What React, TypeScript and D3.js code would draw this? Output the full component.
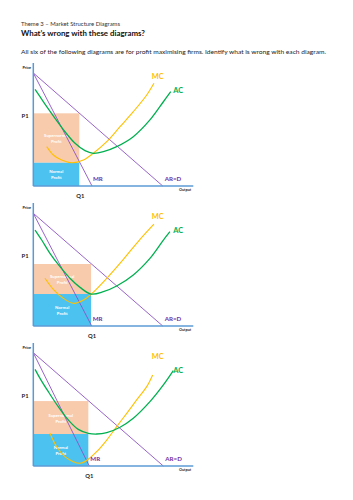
import React from 'react'
import * as d3 from 'd3'

type Pt = [number, number]

// Data (price / output units, 0-100 on each axis)
const mcCurves: Pt[][] = [
  [[8.4, 32.0], [12.5, 25.2], [17.7, 21.1], [24.0, 18.9], [31.3, 21.1], [37.5, 26.6], [45.9, 36.0], [54.2, 48.2], [62.5, 60.4], [70.9, 74.0], [75.4, 83.5]],
  [[7.3, 38.8], [12.5, 29.8], [18.75, 22.5], [25.4, 18.4], [31.3, 21.1], [36.5, 26.3], [45.9, 38.8], [56.3, 54.2], [66.7, 70.5], [75.4, 82.9]],
  [[10.4, 26.6], [14.6, 15.7], [19.8, 7.6], [25.0, 3.5], [29.2, 2.2], [33.75, 4.9], [39.6, 11.6], [45.9, 21.1], [52.1, 32.0], [58.4, 42.8], [64.6, 53.7], [70.9, 64.5], [74.6, 74.0]],
]
const acCurves: Pt[][] = [
  [[1.1, 78.6], [4.2, 72.6], [8.4, 64.5], [13.6, 55.0], [19.8, 44.1], [26.1, 34.7], [32.3, 28.7], [37.5, 26.6], [43.8, 27.9], [52.1, 32.0], [62.5, 40.1], [72.9, 53.7], [81.3, 68.5], [85.9, 76.7]],
  [[1.1, 78.0], [5.25, 69.9], [10.4, 59.1], [16.7, 48.2], [22.9, 38.8], [29.2, 31.4], [36.1, 26.0], [43.8, 27.9], [52.1, 32.5], [62.5, 41.5], [72.9, 55.0], [81.3, 69.9], [85.4, 76.7]],
  [[1.1, 78.6], [4.2, 71.3], [9.4, 60.4], [15.6, 48.2], [21.9, 37.4], [28.1, 29.8], [34.4, 26.6], [39.6, 26.0], [45.9, 27.1], [54.2, 31.5], [62.5, 38.8], [72.9, 52.3], [81.3, 65.9], [87.5, 77.5]],
]
const q1Values = [28.75, 36.1, 34.4]
const p1Values = [59.1, 50.4, 52.8]
const normalValues = [18.9, 26.0, 26.0]
const arTop = [91.9, 91.6, 92.1]
const arEnd = [80.9, 80.9, 81.25]
const mrEnd = [36.7, 36.5, 35.0]
const p1LabelValue = 57
const mcLabel: Pt = [74, 89]
const acLabel: Pt = [87.5, 78]

const panelBase = [186, 326, 466]
const FONT = 'Lato, Calibri, sans-serif'
const PURPLE = '#7030a0'

const x = d3.scaleLinear().domain([0, 100]).range([33.3, 193.3])
const line = d3.line<Pt>().curve(d3.curveCatmullRom)

function Panel({ i }: { i: number }) {
  const base = panelBase[i]
  const y = d3.scaleLinear().domain([0, 100]).range([base, base - 123])
  const lineFn = line.x(d => x(d[0])).y(d => y(d[1]))
  const qx = x(q1Values[i])
  const cx = (x(0) + qx) / 2
  return (
    <g>
      {/* profit boxes */}
      <rect x={x(0)} y={y(p1Values[i])} width={qx - x(0)} height={y(normalValues[i]) - y(p1Values[i])} fill="#f8cbad" />
      <rect x={x(0)} y={y(normalValues[i])} width={qx - x(0)} height={y(0) - y(normalValues[i])} fill="#4cc2f1" />
      <text y={(y(p1Values[i]) + y(normalValues[i])) / 2} fill="#fff" fontSize={4.3} fontFamily={FONT} fontWeight="bold" textAnchor="middle">
        <tspan x={cx} dy={-1}>Supernormal</tspan>
        <tspan x={cx} dy={6.2}>Profit</tspan>
      </text>
      <text y={(y(normalValues[i]) + y(0)) / 2} fill="#fff" fontSize={4.3} fontFamily={FONT} fontWeight="bold" textAnchor="middle">
        <tspan x={cx} dy={-1.5}>Normal</tspan>
        <tspan x={cx} dy={6.2}>Profit</tspan>
      </text>

      {/* AR and MR */}
      <line x1={x(0)} y1={y(arTop[i])} x2={x(arEnd[i])} y2={y(0)} stroke="#8c52c4" strokeWidth={0.9} />
      <line x1={x(0)} y1={y(arTop[i])} x2={x(mrEnd[i])} y2={y(0)} stroke="#8c52c4" strokeWidth={0.9} />

      {/* cost curves */}
      <path d={lineFn(mcCurves[i]) || ''} fill="none" stroke="#ffc000" strokeWidth={1.1} />
      <path d={lineFn(acCurves[i]) || ''} fill="none" stroke="#00b050" strokeWidth={1.3} />

      {/* axes */}
      <line x1={x(0)} y1={y(100)} x2={x(0)} y2={y(0)} stroke="#5b9bd5" strokeWidth={1.5} />
      <line x1={x(0)} y1={y(0)} x2={x(100)} y2={y(0)} stroke="#5b9bd5" strokeWidth={1.5} />

      {/* labels */}
      <text x={31} y={y(95)} fontSize={3.8} fontFamily={FONT} fontWeight="bold" textAnchor="end" fill="#222">Price</text>
      <text x={x(91)} y={y(-4)} fontSize={3.8} fontFamily={FONT} fontWeight="bold" fill="#222">Output</text>
      <text x={28.5} y={y(p1LabelValue)} dy="0.35em" fontSize={5.8} fontFamily={FONT} fontWeight="bold" textAnchor="end" fill="#222">P1</text>
      <text x={qx + 1} y={y(-8)} dy="0.35em" fontSize={5.8} fontFamily={FONT} fontWeight="bold" textAnchor="middle" fill="#222">Q1</text>
      <text x={x(mrEnd[i]) + 1} y={y(5.7)} dy="0.35em" fontSize={6.2} fontFamily={FONT} fontWeight="bold" fill={PURPLE}>MR</text>
      <text x={x(arEnd[i]) + 2} y={y(5.7)} dy="0.35em" fontSize={6.2} fontFamily={FONT} fontWeight="bold" fill={PURPLE}>AR=D</text>
      <text x={x(mcLabel[0])} y={y(mcLabel[1])} dy="0.35em" fontSize={7.4} fontFamily={FONT} fontWeight="bold" fill="#ffc000">MC</text>
      <text x={x(acLabel[0])} y={y(acLabel[1])} dy="0.35em" fontSize={7.4} fontFamily={FONT} fontWeight="bold" fill="#00b050">AC</text>
    </g>
  )
}

export default function App() {
  return (
    <svg width={353} height={500} style={{ position: 'absolute', left: 0, top: 0, background: '#fff' }}>
      <text x={21} y={26} fontSize={5.6} fontFamily={FONT} fill="#333" textLength={99} lengthAdjust="spacingAndGlyphs">Theme 3 – Market Structure Diagrams</text>
      <text x={21} y={36} fontSize={7.4} fontFamily={FONT} fontWeight="bold" fill="#111" textLength={124} lengthAdjust="spacingAndGlyphs">What’s wrong with these diagrams?</text>
      <text x={21} y={54} fontSize={6.2} fontFamily={FONT} fill="#222" textLength={305} lengthAdjust="spacingAndGlyphs">All six of the following diagrams are for profit maximising firms. Identify what is wrong with each diagram.</text>
      {[0, 1, 2].map(i => <Panel key={i} i={i} />)}
    </svg>
  )
}
